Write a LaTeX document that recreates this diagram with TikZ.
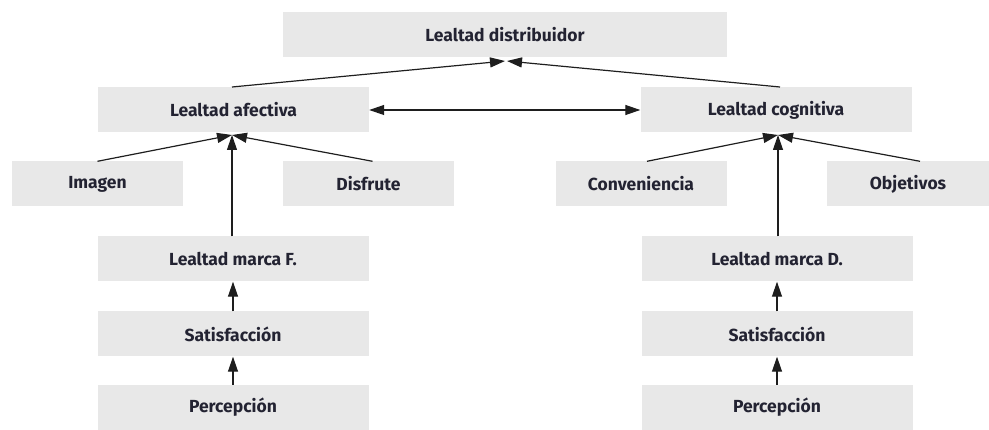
\documentclass[tikz,border=0pt]{standalone}
\usepackage{fontspec}
\setmainfont{Fira Sans}
\usepackage{tikz}
\usetikzlibrary{arrows.meta}
\definecolor{boxgray}{RGB}{232,232,232}
\definecolor{txtblack}{RGB}{35,35,50}
\definecolor{lineblack}{RGB}{30,30,30}

\begin{document}
\begin{tikzpicture}[x=1pt,y=-1pt,
  box/.style={fill=boxgray, minimum height=45pt, inner sep=0pt, text=txtblack,
    font=\fontsize{17.5}{20}\selectfont\bfseries},
  wide/.style={box, minimum width=271pt},
  small/.style={box, minimum width=171pt},
  arr/.style={lineblack, line width=1.2pt, -{Triangle[length=15pt,width=10pt]}}]
  \useasboundingbox (0,0) rectangle (989,430);
  % Top
  \node[box, minimum width=444pt] (dist) at (505,34.5) {Lealtad distribuidor};
  \node[wide] (afec) at (233.5,110) {Lealtad afectiva};
  \node[wide] (cogn) at (776,110) {Lealtad cognitiva};
  % Second row
  \node[small] (imag) at (97.5,184) {Imagen};
  \node[small] (disf) at (368.5,184) {Disfrute};
  \node[small] (conv) at (641,184) {Conveniencia};
  \node[small, minimum width=162pt] (obje) at (908,184) {Objetivos};
  % Left chain
  \node[wide] (marF) at (233,259) {Lealtad marca F.};
  \node[wide] (satF) at (233,334) {Satisfacción};
  \node[wide] (perF) at (233,407.5) {Percepción};
  % Right chain
  \node[wide] (marD) at (777,259) {Lealtad marca D.};
  \node[wide] (satD) at (777,334) {Satisfacción};
  \node[wide] (perD) at (777,407.5) {Percepción};
  % Connectors
  \coordinate (tipL) at (505,61);
  \coordinate (tipR) at (507,61);
  \coordinate (tipA) at (232,135);
  \coordinate (tipC) at (778,135);
  \draw[arr] (232,87) -- (tipL);
  \draw[arr] (780,87) -- (tipR);
  \draw[arr, {Triangle[length=15pt,width=10pt]}-{Triangle[length=15pt,width=10pt]}] (afec.east) -- (cogn.west);
  \draw[arr] (imag.north) -- (tipA);
  \draw[arr] ([xshift=4pt]disf.north) -- (tipA);
  \draw[arr] (marF.north -| tipA) -- (tipA);
  \draw[arr] ([xshift=6pt]conv.north) -- (tipC);
  \draw[arr] ([xshift=12pt]obje.north) -- (tipC);
  \draw[arr] (marD.north -| tipC) -- (tipC);
  \draw[arr] (satF.north) -- (marF.south);
  \draw[arr] (perF.north) -- (satF.south);
  \draw[arr] (satD.north) -- (marD.south);
  \draw[arr] (perD.north) -- (satD.south);
\end{tikzpicture}
\end{document}
